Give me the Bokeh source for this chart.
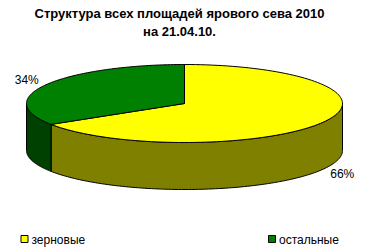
import math
from bokeh.plotting import figure
from bokeh.models import Range1d
from bokeh.core.properties import value
from bokeh.embed import file_html
from bokeh.resources import INLINE

# data
categories = ["зерновые", "остальные"]
shares = [66, 34]
pct_labels = ["66%", "34%"]
top_colors = ["#FFFF00", "#008000"]
side_colors = ["#808000", "#004000"]
title_lines = ["Структура всех площадей ярового сева 2010", "на 21.04.10."]

W, H = 370, 252
p = figure(width=W, height=H, output_backend="svg", toolbar_location=None,
           x_range=Range1d(0, W), y_range=Range1d(H, 0), min_border=0)
p.axis.visible = False
p.grid.visible = False
p.outline_line_color = None
p.background_fill_color = "white"
p.border_fill_color = "white"

cx, cy, a, b, depth = 184, 103, 158, 39, 47
FONT = value("Liberation Sans")

def pt(t, dy=0):
    r = math.radians(t)
    return cx + a * math.cos(r), cy - b * math.sin(r) + dy

total = sum(shares)
slices = []
start = 90.0
for s in shares:
    span = 360.0 * s / total
    slices.append((start - span, start))
    start -= span

def arc(lo, hi, dy=0, n=120):
    xs, ys = [], []
    for i in range(n + 1):
        t = lo + (hi - lo) * i / n
        x, y = pt(t, dy)
        xs.append(x); ys.append(y)
    return xs, ys

# sides (front part)
for (lo, hi), col in zip(slices, side_colors):
    for k in range(-2, 2):
        flo, fhi = 180 + 360 * k, 360 + 360 * k
        l2, h2 = max(lo, flo), min(hi, fhi)
        if h2 > l2:
            tx, ty = arc(l2, h2)
            bx, by = arc(l2, h2, depth)
            p.patch(tx + bx[::-1], ty + by[::-1], fill_color=col,
                    line_color="black", line_width=1)

# tops
for (lo, hi), col in zip(slices, top_colors):
    ax, ay = arc(lo, hi)
    p.patch([cx] + ax, [cy] + ay, fill_color=col, line_color="black", line_width=1)

# percent labels
for (lo, hi), lab in zip(slices, pct_labels):
    m = math.radians((lo + hi) / 2)
    lx = cx + 180 * math.cos(m)
    ly = cy - 48 * math.sin(m) + (depth if math.sin(m) < 0 else 0)
    p.text([lx], [ly], text=[lab], text_align="center", text_baseline="middle",
           text_font=FONT, text_font_size="12px", text_color="black")

# title
p.text([179, 179], [13, 31], text=title_lines, text_align="center",
       text_baseline="middle", text_font=FONT, text_font_size="13px",
       text_font_style="bold", text_color="black")

# legend
leg_x = [24, 271.5]
p.scatter(leg_x, [238.5, 238.5], marker="square", size=7,
          fill_color=top_colors, line_color="black", line_width=1)
p.text([x + 7 for x in leg_x], [239.5, 239.5], text=categories, text_align="left",
       text_baseline="middle", text_font=FONT, text_font_size="12px", text_color="black")

open("out.html", "w").write(file_html(p, INLINE))
